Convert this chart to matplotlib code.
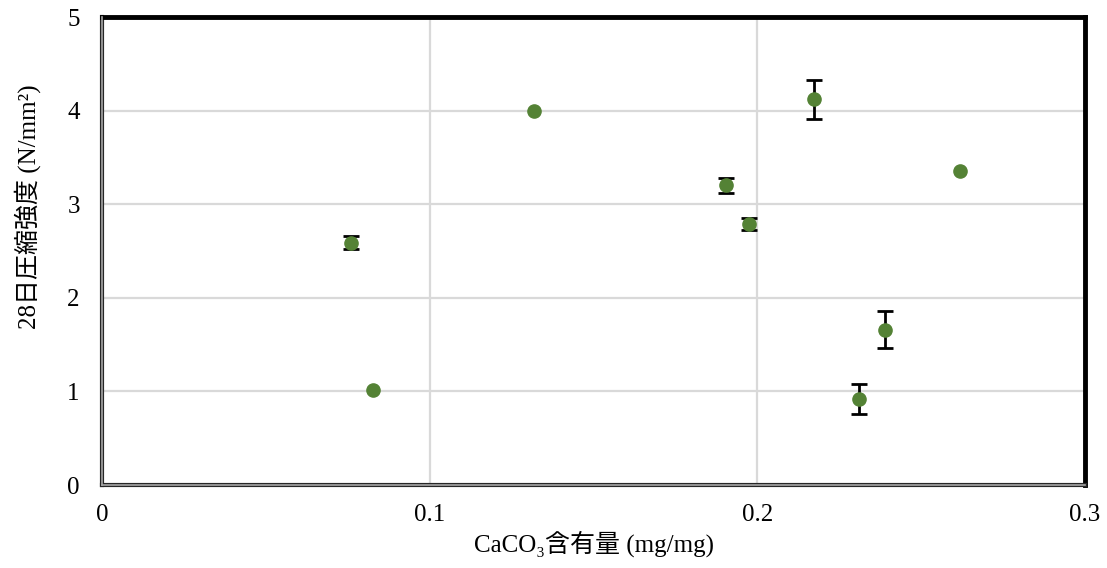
import matplotlib
matplotlib.use("Agg")
import matplotlib.pyplot as plt
from matplotlib.lines import Line2D

caco3 = [0.0761, 0.0826, 0.1318, 0.1905, 0.1976, 0.2174, 0.2309, 0.2391, 0.2618]
strength = [2.59, 1.01, 4.00, 3.20, 2.79, 4.12, 0.92, 1.66, 3.355]
err = [0.07, 0.0, 0.0, 0.08, 0.065, 0.21, 0.16, 0.20, 0.0]
xticks = [0, 0.1, 0.2, 0.3]
xticklabels = ["0", "0.1", "0.2", "0.3"]
yticks = [0, 1, 2, 3, 4, 5]

plt.rcParams['font.family'] = ['Liberation Serif', 'Noto Sans CJK JP']

fig = plt.figure(figsize=(11.07, 5.68), dpi=100)
ax = fig.add_axes([102/1107, 1-485/568, (1085-102)/1107, (485-17)/568])

ex = [x for x, e in zip(caco3, err) if e > 0]
ey = [y for y, e in zip(strength, err) if e > 0]
ee = [e for e in err if e > 0]
ax.errorbar(ex, ey, yerr=ee, fmt='none', ecolor='black', elinewidth=2,
            capsize=6, capthick=2, zorder=3)
ax.plot(caco3, strength, 'o', color='#548235', markersize=9.5, zorder=4)

ax.set_xlim(0, 0.3)
ax.set_ylim(0, 5)
ax.set_xticks(xticks)
ax.set_xticklabels(xticklabels)
ax.set_yticks(yticks)
ax.tick_params(length=0, labelsize=18)
ax.tick_params(axis='y', pad=16)
ax.tick_params(axis='x', pad=14)
ax.grid(True, color='#d9d9d9', linewidth=1.6, zorder=0)
ax.set_axisbelow(True)

for s in ['top', 'right']:
    ax.spines[s].set_color('black')
    ax.spines[s].set_linewidth(3.5)
for s in ['left', 'bottom']:
    ax.spines[s].set_color('#262626')
    ax.spines[s].set_linewidth(3)
ax.add_line(Line2D([0, 0], [0, 1], transform=ax.transAxes, color='#a6a6a6', lw=1.2, clip_on=False, zorder=5))
ax.add_line(Line2D([0, 1], [0, 0], transform=ax.transAxes, color='#a6a6a6', lw=1.2, clip_on=False, zorder=5))

ax.set_xlabel('CaCO₃含有量 (mg/mg)', fontsize=18, labelpad=3)
fig.text(28/1107, 1-207/568, '28日圧縮強度 (N/mm²)', fontsize=18,
         rotation=90, ha='center', va='center')

fig.savefig('out.png', dpi=100)
